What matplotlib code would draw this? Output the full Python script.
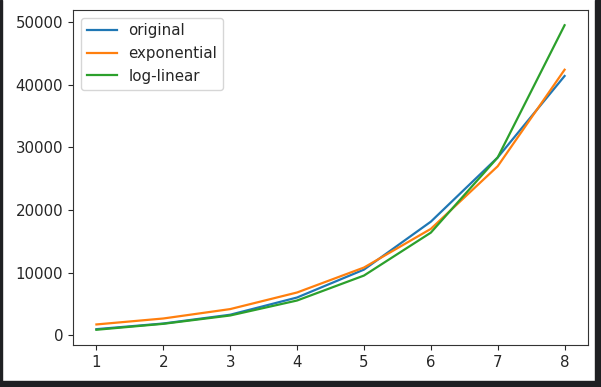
import matplotlib
matplotlib.use("Agg")
import matplotlib.pyplot as plt
from matplotlib.patches import Rectangle

x = [1, 2, 3, 4, 5, 6, 7, 8]
original = [1000, 1900, 3300, 6050, 10500, 18150, 28400, 41400]
exponential = [1750, 2700, 4200, 6850, 10830, 17000, 27000, 42400]
log_linear = [900, 1850, 3180, 5570, 9550, 16400, 28400, 49500]

plt.rcParams["font.size"] = 10.8
plt.rcParams["text.color"] = "#262626"
plt.rcParams["xtick.color"] = "#262626"
plt.rcParams["ytick.color"] = "#262626"
plt.rcParams["axes.edgecolor"] = "#333333"

W, H = 601, 387
fig = plt.figure(figsize=(W / 100, H / 100), dpi=100)
ax = fig.add_axes([73 / W, (H - 345) / H, (588 - 73) / W, (345 - 10) / H])

ax.plot(x, original, label="original", lw=1.6)
ax.plot(x, exponential, label="exponential", lw=1.6)
ax.plot(x, log_linear, label="log-linear", lw=1.6)
ax.legend(loc="upper left")

# dark frame around the screenshot
dark = "#1f2023"
fig.patches.append(Rectangle((0, 0), 2 / W, 1, transform=fig.transFigure, color=dark, zorder=10))
fig.patches.append(Rectangle((595 / W, 0), 1, 1, transform=fig.transFigure, color=dark, zorder=10))
fig.patches.append(Rectangle((0, 0), 1, (H - 381) / H, transform=fig.transFigure, color=dark, zorder=10))

fig.savefig("out.png", dpi=100)
